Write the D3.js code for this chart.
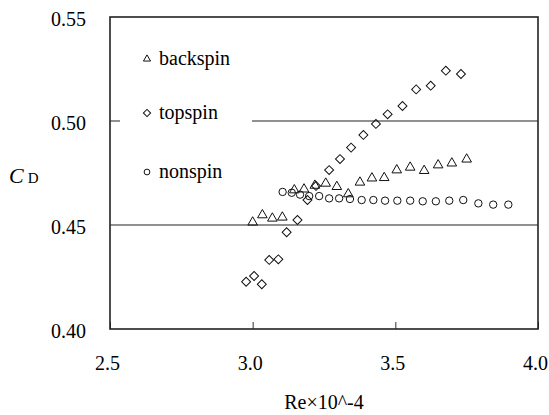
<!DOCTYPE html>
<html>
    <head>
		<meta charset= "utf-8">
		<script src= "https://cdn.jsdelivr.net/npm/d3@7"></script>
    </head>
    <body style="margin:0">

        <svg id="fig" width="549" height="415"></svg>

        <script>
			// data (Re x 10^-4, CD)
			const backspinRe = [3.000, 3.034, 3.069, 3.104, 3.146, 3.180, 3.218, 3.256, 3.295, 3.335, 3.376, 3.418, 3.461, 3.505, 3.552, 3.601, 3.650, 3.698, 3.750];
			const backspinCd = [0.4513, 0.4548, 0.4532, 0.4537, 0.4668, 0.4672, 0.4690, 0.4700, 0.4684, 0.4649, 0.4705, 0.4725, 0.4727, 0.4764, 0.4777, 0.4761, 0.4788, 0.4797, 0.4816];

			const topspinRe = [2.977, 3.005, 3.032, 3.058, 3.090, 3.119, 3.157, 3.192, 3.222, 3.268, 3.306, 3.345, 3.388, 3.432, 3.473, 3.525, 3.573, 3.624, 3.677, 3.730];
			const topspinCd = [0.4227, 0.4255, 0.4215, 0.4332, 0.4335, 0.4465, 0.4524, 0.4620, 0.4688, 0.4764, 0.4817, 0.4872, 0.4933, 0.4986, 0.5032, 0.5072, 0.5152, 0.5170, 0.5242, 0.5226];

			const nonspinRe = [3.105, 3.137, 3.166, 3.198, 3.233, 3.268, 3.303, 3.341, 3.382, 3.423, 3.464, 3.507, 3.552, 3.596, 3.642, 3.689, 3.738, 3.791, 3.843, 3.896];
			const nonspinCd = [0.4659, 0.4655, 0.4646, 0.4639, 0.4639, 0.4628, 0.4628, 0.4625, 0.4620, 0.4620, 0.4617, 0.4617, 0.4617, 0.4614, 0.4614, 0.4617, 0.4620, 0.4604, 0.4598, 0.4598];

			const xTicks = [2.5, 3.0, 3.5, 4.0];
			const yTicks = [0.40, 0.45, 0.50, 0.55];
			const gridVals = [0.45, 0.50];
			const seriesNames = ["backspin", "topspin", "nonspin"];

			var svg = d3.select("#fig");

			const margin = { left: 110, top: 17, right: 11, bottom: 86 };
			const W = 549, H = 415;

			// text first, all with a literal serif family
			svg.append("text")
			   .attr("x", (margin.left + W - margin.right) / 2)
			   .attr("y", 409)
			   .attr("text-anchor", "middle")
			   .attr("font-family", "Liberation Serif")
			   .attr("font-size", 20)
			   .text("Re×10^-4");

			var yt = svg.append("text")
			            .attr("x", 9)
			            .attr("y", 183)
			            .attr("font-family", "Liberation Serif");
			yt.append("tspan")
			  .attr("font-style", "italic")
			  .attr("font-size", 22)
			  .text("C");
			yt.append("tspan")
			  .attr("dx", 4)
			  .attr("font-size", 15)
			  .text("D");

			// scales
			const xSc = d3.scaleLinear()
			              .domain([2.5, 4.0])
			              .range([margin.left, W - margin.right]);

			const ySc = d3.scaleLinear()
			              .domain([0.40, 0.55])
			              .range([H - margin.bottom, margin.top]);

			// gridlines
			svg.selectAll(".grid")
			   .data(gridVals)
			   .enter()
			   .append("line")
			   .attr("x1", xSc(2.5))
			   .attr("x2", xSc(4.0))
			   .attr("y1", d => ySc(d))
			   .attr("y2", d => ySc(d))
			   .attr("stroke", "#222")
			   .attr("stroke-width", 1.2);

			// white legend box hides part of the 0.50 grid line
			svg.append("rect")
			   .attr("x", margin.left + 10)
			   .attr("y", 35)
			   .attr("width", 132)
			   .attr("height", 155)
			   .attr("fill", "white");

			// axes
			var xg = svg.append("g")
			            .attr("transform", `translate(0,${H - margin.bottom})`)
			            .call(d3.axisBottom(xSc).tickValues(xTicks).tickSizeInner(-7).tickSizeOuter(0).tickFormat(d3.format(".1f")));
			xg.attr("font-family", "Liberation Serif").attr("font-size", 20);
			xg.select(".domain").remove();
			xg.selectAll("line").attr("stroke", "#333");
			xg.selectAll("text")
			  .attr("y", 41)
			  .attr("dy", 0)
			  .attr("dx", -3);

			var yg = svg.append("g")
			            .attr("transform", `translate(${margin.left},0)`)
			            .call(d3.axisLeft(ySc).tickValues(yTicks).tickSizeInner(0).tickSizeOuter(0).tickFormat(d3.format(".2f")));
			yg.attr("font-family", "Liberation Serif").attr("font-size", 20);
			yg.select(".domain").remove();
			yg.selectAll("text")
			  .attr("x", -24)
			  .attr("dy", "0.4em");

			// plot frame
			svg.append("rect")
			   .attr("x", xSc(2.5))
			   .attr("y", ySc(0.55))
			   .attr("width", xSc(4.0) - xSc(2.5))
			   .attr("height", ySc(0.40) - ySc(0.55))
			   .attr("fill", "none")
			   .attr("stroke", "#222")
			   .attr("stroke-width", 1.6);

			// markers
			const triMkr = d3.symbol().type(d3.symbolTriangle).size(40);
			const sqMkr = d3.symbol().type(d3.symbolSquare).size(40);
			const cirMkr = d3.symbol().type(d3.symbolCircle).size(43);

			function drawPts(xs, ys, mkr, rot) {
				svg.append("g")
				   .selectAll("path")
				   .data(xs.map((d, i) => [d, ys[i]]))
				   .enter()
				   .append("path")
				   .attr("d", mkr())
				   .attr("transform", d => `translate(${xSc(d[0])},${ySc(d[1])}) rotate(${rot})`)
				   .attr("fill", "none")
				   .attr("stroke", "#111")
				   .attr("stroke-width", 1);
			}

			drawPts(nonspinRe, nonspinCd, cirMkr, 0);
			drawPts(backspinRe, backspinCd, triMkr, 0);
			drawPts(topspinRe, topspinCd, sqMkr, 45);

			// legend
			const legY = [59, 113, 172];
			const legMkr = [
				[d3.symbol().type(d3.symbolTriangle).size(22), 0],
				[d3.symbol().type(d3.symbolSquare).size(26), 45],
				[d3.symbol().type(d3.symbolCircle).size(26), 0]
			];

			var leg = svg.append("g");
			leg.selectAll("path")
			   .data(seriesNames)
			   .enter()
			   .append("path")
			   .attr("d", (d, i) => legMkr[i][0]())
			   .attr("transform", (d, i) => `translate(147,${legY[i]}) rotate(${legMkr[i][1]})`)
			   .attr("fill", "none")
			   .attr("stroke", "#111")
			   .attr("stroke-width", 1);

			leg.selectAll("text")
			   .data(seriesNames)
			   .enter()
			   .append("text")
			   .attr("x", 159)
			   .attr("y", (d, i) => legY[i] + 6)
			   .attr("font-family", "Liberation Serif")
			   .attr("font-size", 20)
			   .text(d => d);
        </script>

    </body>
</html>
